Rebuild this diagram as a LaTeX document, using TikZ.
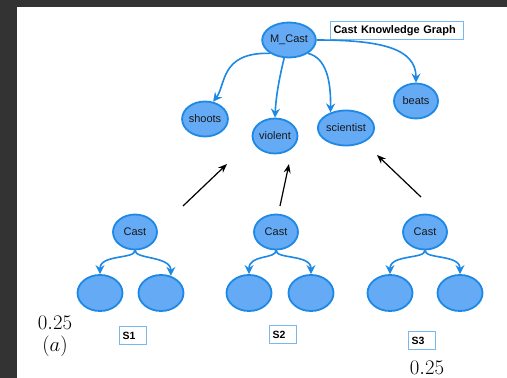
\documentclass[tikz,border=0pt]{standalone}
\usepackage{fontspec}
\setsansfont{Liberation Sans}
\usetikzlibrary{shapes.geometric,arrows.meta}
\definecolor{nodefill}{RGB}{100,170,245}
\definecolor{nodeline}{RGB}{30,136,229}
\definecolor{darkbg}{RGB}{51,51,51}

\begin{document}
\begin{tikzpicture}[x=1pt,y=-1pt,
  ent/.style={ellipse,draw=nodeline,fill=nodefill,line width=1.8pt,minimum width=44pt,minimum height=35pt,inner sep=0pt,font=\sffamily\fontsize{11}{13}\selectfont,text=black!90},
  rel/.style={nodeline,line width=1.6pt,-{Stealth[length=9pt,width=9pt,inset=3pt]}},
  push/.style={black,line width=1.2pt,-{Stealth[length=9pt,width=7pt]}},
  tag/.style={draw=nodeline!60,line width=1.1pt,anchor=north west,inner xsep=3pt,inner ysep=0pt,minimum height=18pt,align=left,font=\sffamily\bfseries\fontsize{10.5}{12}\selectfont},
  num/.style={font=\fontsize{20}{22}\selectfont}]
  \useasboundingbox (0,0) rectangle (507,378);
  \fill[darkbg] (0,0) rectangle (507,378);
  \fill[white] (17,7) rectangle (507,378);
  \node[ent] (mc) at (289,40) {M\_Cast};
  \node[ent] (shoots) at (205,119) {shoots};
  \node[ent] (violent) at (275,136) {violent};
  \node[ent] (sci) at (346,128) {scientist};
  \node[ent] (beats) at (416,101) {beats};
  \node[tag,text width=127pt,font=\sffamily\bfseries\fontsize{11}{13}\selectfont] (title) at (330,21) {Cast Knowledge Graph};
  \draw[rel] (mc.215) .. controls (220,52) and (226,85) .. (shoots.65);
  \draw[rel] (mc.255) .. controls (280,75) and (276,95) .. (violent.north);
  \draw[rel] (mc.-35) .. controls (326,58) and (331,80) .. (sci.135);
  \draw[rel] (mc.east) .. controls (380,40) and (416,48) .. (beats.north);
  \coordinate (a1) at (183,206);
  \coordinate (b1) at (227,164);
  \coordinate (a2) at (280,206);
  \coordinate (b2) at (289,164);
  \coordinate (a3) at (421,197);
  \coordinate (b3) at (377,155);
  \draw[push] (a1) -- (b1);
  \draw[push] (a2) -- (b2);
  \draw[push] (a3) -- (b3);
  \foreach \i/\cx/\lx/\rx/\ra in {1/135/100/161/60, 2/276/249/311/90, 3/425/390/460/90} {
    \node[ent] (c\i) at (\cx,232) {Cast};
    \node[ent,minimum width=45pt,minimum height=36pt] (l\i) at (\lx,293) {};
    \node[ent,minimum width=45pt,minimum height=36pt] (r\i) at (\rx,293) {};
    \draw[rel] (c\i.south) .. controls +(0,9) and +(0,-20) .. (l\i.north);
    \draw[rel] (c\i.south) .. controls +(0,9) and +(0,-20) .. (r\i.\ra);
  }
  \node[tag,text width=21pt] (s1) at (119,326) {S1};
  \node[tag,text width=21pt] (s2) at (269,325) {S2};
  \node[tag,text width=21pt] (s3) at (408,331) {S3};
  \node[num] (n1) at (55,323) {$0.25$};
  \node[num] (lab) at (55,346) {$(a)$};
  \node[num] (n2) at (427,368) {$0.25$};
\end{tikzpicture}
\end{document}
